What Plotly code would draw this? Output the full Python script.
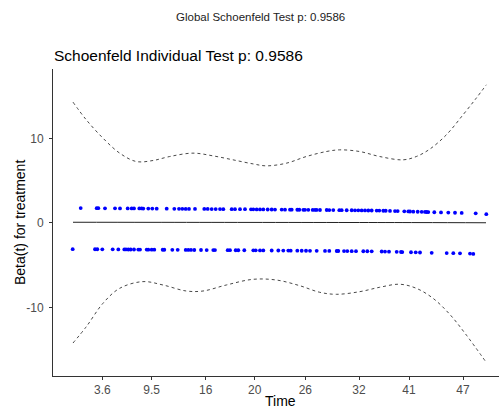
import plotly.graph_objects as go

# transformed time scale (rank-based), tick labels are original times
tick_pos = [102.3, 151.7, 205.7, 254.7, 305.3, 359.0, 409.0, 463.0]
tick_lab = ["3.6", "9.5", "16", "20", "26", "32", "41", "47"]

# Schoenfeld residual points (upper group)
up_x = [80.7, 96.7, 98.3, 105, 115, 120, 127.7, 131.7, 134, 139.3, 141.7, 143.3, 148.3, 152.3, 156.7, 166.7,
        174.3, 179, 182.3, 185.7, 189, 195, 204.3, 207.7, 211.7, 215.7, 220, 223.3, 231.7, 235, 240, 245, 251,
        253.3, 256.7, 260, 263.3, 267.7, 271.7,
        275, 281.7, 285, 290, 291.7, 297.3, 299.3, 303.3, 305, 308.3, 312.7, 315, 316.7, 320, 326.7, 329.3,
        333.3, 339.3, 341.7, 346.7, 351.7, 355, 358.3, 361.7, 365, 368.3, 371.7,
        376.7, 379.3, 383.3, 385.7, 390, 395, 397.7, 404.3, 408.3, 410, 413.3, 417.7, 421.7, 425, 426.7, 428.3,
        434.3, 441, 448.3, 455, 461.7, 475.7, 486.3]
up_y = [1.75, 1.74, 1.74, 1.73, 1.73, 1.72, 1.72, 1.72, 1.71, 1.71, 1.71, 1.70, 1.70, 1.70, 1.69, 1.68,
        1.67, 1.67, 1.67, 1.66, 1.66, 1.66, 1.65, 1.65, 1.64, 1.64, 1.64, 1.63, 1.63, 1.62, 1.62, 1.62, 1.61,
        1.61, 1.60, 1.60, 1.60, 1.59, 1.59,
        1.58, 1.58, 1.57, 1.57, 1.57, 1.56, 1.56, 1.55, 1.55, 1.55, 1.54, 1.54, 1.54, 1.53, 1.53, 1.52,
        1.52, 1.51, 1.51, 1.50, 1.50, 1.49, 1.49, 1.48, 1.48, 1.47, 1.47,
        1.46, 1.46, 1.44, 1.44, 1.42, 1.40, 1.40, 1.37, 1.36, 1.35, 1.33, 1.32, 1.31, 1.30, 1.29, 1.28,
        1.26, 1.24, 1.22, 1.20, 1.18, 1.14, 1.03]

# Schoenfeld residual points (lower group)
lo_x = [72.7, 95, 97.3, 102.3, 112.7, 118.3, 124.3, 126, 128.3, 130.7, 134, 138.3, 140, 146.7, 148.3, 151.7,
        154.3, 162.7, 164.3,
        172.3, 177.7, 185.7, 188.3, 191, 194.3, 201, 206.7, 213.3, 215, 227.7, 230, 235.7, 238.3, 244.3, 253.3,
        255.7, 260, 263.3, 271.7,
        278.3, 283.3, 288.3, 290.7, 297.3, 301.7, 306, 310, 316.7, 325, 329.3, 336.7, 338.3, 344, 347.3, 351.7,
        356, 363.3, 367.3, 371.7,
        381.7, 385, 389, 396.7, 401, 402.3, 411, 415.7, 420, 431.7, 446.7, 453.3, 460, 470, 473.3]
lo_y = [-3.10, -3.11, -3.11, -3.12, -3.12, -3.13, -3.13, -3.13, -3.14, -3.14, -3.14, -3.15, -3.15, -3.15, -3.16, -3.16,
        -3.16, -3.17, -3.17,
        -3.18, -3.18, -3.19, -3.19, -3.19, -3.20, -3.20, -3.21, -3.21, -3.21, -3.22, -3.22, -3.23, -3.23, -3.23, -3.24,
        -3.24, -3.25, -3.25, -3.26,
        -3.26, -3.27, -3.27, -3.28, -3.28, -3.29, -3.29, -3.30, -3.30, -3.31, -3.31, -3.32, -3.32, -3.33, -3.33, -3.34,
        -3.34, -3.35, -3.35, -3.36,
        -3.38, -3.39, -3.40, -3.42, -3.44, -3.45, -3.47, -3.48, -3.50, -3.53, -3.56, -3.58, -3.60, -3.63, -3.67]

# smoothed beta(t)
fit_x = [73, 150, 250, 350, 420, 486]
fit_y = [0.08, 0.07, 0.06, 0.05, 0.04, 0.02]

# confidence band, upper
ci_up_x = [73, 86.3, 103, 119.7, 136.3, 153, 169.7, 193, 213, 233, 253, 266.3, 286.3, 306.3, 326.3, 339.7,
           359.7, 379.7, 403, 416.3, 429.7, 446.3, 463, 476.3, 486.3]
ci_up_y = [14.28, 12.19, 10.02, 8.25, 7.26, 7.38, 7.85, 8.25, 7.93, 7.46, 6.98, 6.75, 7.06, 7.85, 8.44, 8.64,
           8.44, 7.85, 7.46, 7.85, 8.72, 10.41, 12.78, 14.76, 16.33]
# confidence band, lower
ci_lo_x = [73, 86.3, 103, 119.7, 143, 163, 186.3, 203, 226.3, 253, 276.3, 299.7, 319.7, 336.3, 359.7, 379.7,
           399.7, 416.3, 433, 449.7, 466.3, 486.3]
ci_lo_y = [-14.2, -12.27, -9.5, -7.73, -6.94, -7.34, -8.05, -8.05, -7.34, -6.67, -6.75, -7.42, -8.2, -8.44, -8.13,
           -7.61, -7.25, -7.73, -8.91, -10.8, -13.25, -16.5]

AX = "#333333"
TXT = "#4d4d4d"
FONT = "Liberation Sans, Arial, sans-serif"

fig = go.Figure()
for cx, cy in [(ci_up_x, ci_up_y), (ci_lo_x, ci_lo_y)]:
    fig.add_trace(go.Scatter(x=cx, y=cy, mode="lines", line=dict(color="#333333", width=0.9, dash="3px,3px", shape="spline"),
                             hoverinfo="skip", showlegend=False))
fig.add_trace(go.Scatter(x=fit_x, y=fit_y, mode="lines", line=dict(color="#222222", width=1, shape="spline"),
                         showlegend=False))
fig.add_trace(go.Scatter(x=up_x, y=up_y, mode="markers", marker=dict(color="#0000ff", size=3.8), showlegend=False))
fig.add_trace(go.Scatter(x=lo_x, y=lo_y, mode="markers", marker=dict(color="#0000ff", size=3.8), showlegend=False))

W, H = 499, 410
L, R, T, B = 53, 0, 69, 34
pw, ph = W - L - R, H - T - B

def px(xp):
    return (xp - L) / pw

def py(yp):
    return (H - B - yp) / ph

fig.update_layout(
    width=W, height=H,
    margin=dict(l=L, r=R, t=T, b=B, pad=0),
    paper_bgcolor="white", plot_bgcolor="white",
    font=dict(family=FONT, color=TXT),
    xaxis=dict(range=[53, 499], showgrid=False, zeroline=False, showline=True, linecolor=AX, linewidth=1,
               ticks="outside", ticklen=3, tickcolor=AX, tickwidth=1, ticklabelstandoff=0,
               tickvals=tick_pos, ticktext=tick_lab, tickfont=dict(size=12, color=TXT, family=FONT)),
    yaxis=dict(range=[-18.1, 18.2], showgrid=False, zeroline=False, showline=True, linecolor=AX, linewidth=1,
               ticks="outside", ticklen=3, tickcolor=AX, tickwidth=1, ticklabelstandoff=3,
               tickvals=[-10, 0, 10], ticktext=["-10", "0", "10"], tickfont=dict(size=12, color=TXT, family=FONT)),
    annotations=[
        dict(text="Global Schoenfeld Test p: 0.9586", x=px(260), y=py(17), xref="paper", yref="paper",
             xanchor="center", yanchor="middle", showarrow=False, font=dict(size=11.5, color="#222222", family=FONT)),
        dict(text="Schoenfeld Individual Test p: 0.9586", x=px(52), y=py(56), xref="paper", yref="paper",
             xanchor="left", yanchor="middle", showarrow=False, font=dict(size=15.5, color="black", family=FONT)),
        dict(text="Time", x=px(280), y=py(401), xref="paper", yref="paper",
             xanchor="center", yanchor="middle", showarrow=False, font=dict(size=14, color="black", family=FONT)),
        dict(text="Beta(t) for treatment", x=px(20), y=py(223), xref="paper", yref="paper", textangle=-90,
             xanchor="center", yanchor="middle", showarrow=False, font=dict(size=14, color="black", family=FONT)),
    ],
)

fig.write_html("out.html")
